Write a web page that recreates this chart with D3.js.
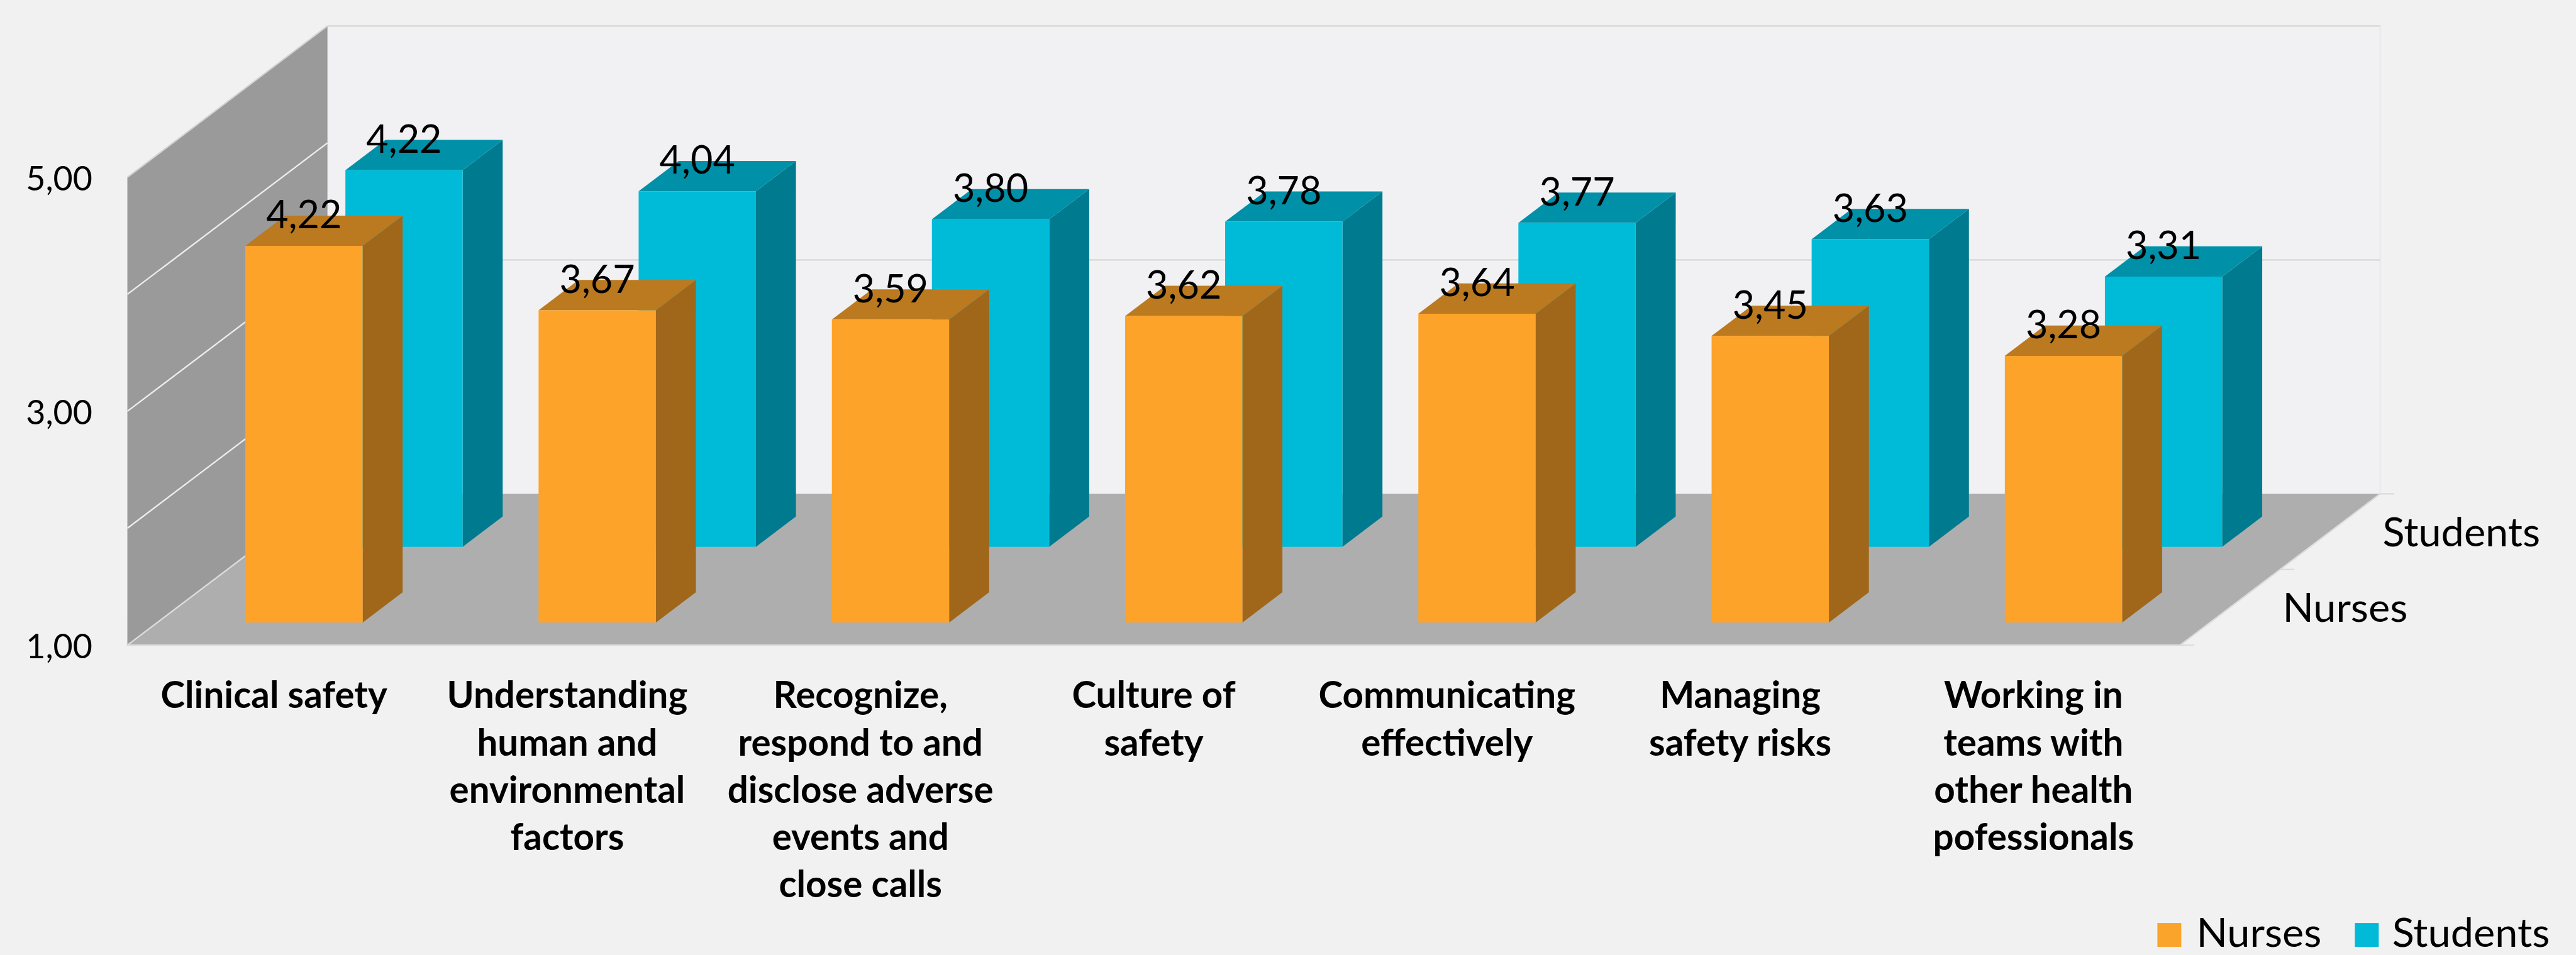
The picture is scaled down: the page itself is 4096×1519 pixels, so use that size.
<!DOCTYPE html>
<html>
<head>
<meta charset="utf-8">
<script src="https://cdn.jsdelivr.net/npm/d3@7/dist/d3.min.js"></script>
<style>
  html, body { margin: 0; padding: 0; background: #f1f1f1; overflow: hidden; }
  svg { display: block; font-family: Lato, "Open Sans", sans-serif; }
</style>
</head>
<body>
<svg id="chart"></svg>
<script>
// Chart data
const categories = [
  ["Clinical safety"],
  ["Understanding", "human and", "environmental", "factors"],
  ["Recognize,", "respond to and", "disclose adverse", "events and", "close calls"],
  ["Culture of", "safety"],
  ["Communicating", "effectively"],
  ["Managing", "safety risks"],
  ["Working in", "teams with", "other health", "pofessionals"]
];
const seriesNames = ["Nurses", "Students"];
const nurses = [4.22, 3.67, 3.59, 3.62, 3.64, 3.45, 3.28];
const students = [4.22, 4.04, 3.80, 3.78, 3.77, 3.63, 3.31];
const valueTicks = [1, 3, 5];
const wallGridValues = [2, 3, 4];
const backGridValues = [3, 5];

// Drawing space, scaled down to the window through the viewBox
const W = 4421, H = 1640;
const svg = d3.select("#chart")
  .attr("width", 4096).attr("height", 1519)
  .attr("viewBox", `0 0 ${W} ${H}`);

svg.append("rect").attr("width", W).attr("height", H).attr("fill", "#f1f1f1");

// Oblique box: front-left corner at (x0, y(1)), receding by (depthX, -depthY)
const x0 = 218, x1 = 3742, depthX = 343.5, depthY = 260;
const y = d3.scaleLinear().domain([1, 5]).range([1108, 304.6]);
const x = d3.scaleBand().domain(d3.range(categories.length)).range([x0, x1])
  .paddingInner(0.6).paddingOuter(0.3);
const z = d3.scaleBand().domain(seriesNames).range([0, 1])
  .paddingInner(0.6).paddingOuter(0.3);

// Project (horizontal px, value, depth 0..1) onto the page
const project = (px, v, d) => [px + d * depthX, y(v) - d * depthY];
const poly = pts => d3.line()(pts) + "Z";

const [vMin, vMax] = y.domain();

// Back wall
svg.append("path")
  .attr("d", poly([project(x0, vMin, 1), project(x1, vMin, 1), project(x1, vMax, 1), project(x0, vMax, 1)]))
  .attr("fill", "#f1f1f3");
svg.append("line")
  .attr("x1", project(x1, vMin, 1)[0]).attr("x2", project(x1, vMin, 1)[0])
  .attr("y1", y(vMin) - depthY).attr("y2", y(vMax) - depthY)
  .attr("stroke", "#e8e8ea").attr("stroke-width", 2);
svg.selectAll(".back-grid").data(backGridValues).join("line")
  .attr("class", "back-grid")
  .attr("x1", project(x0, 1, 1)[0]).attr("x2", project(x1, 1, 1)[0])
  .attr("y1", d => project(x0, d, 1)[1]).attr("y2", d => project(x0, d, 1)[1])
  .attr("stroke", "#dcdcde").attr("stroke-width", 3);

// Left wall
svg.append("path")
  .attr("d", poly([project(x0, vMin, 0), project(x0, vMin, 1), project(x0, vMax, 1), project(x0, vMax, 0)]))
  .attr("fill", "#9a9a9b");
svg.selectAll(".wall-grid").data(wallGridValues).join("line")
  .attr("class", "wall-grid")
  .attr("x1", project(x0, 1, 0)[0]).attr("x2", project(x0, 1, 1)[0])
  .attr("y1", d => project(x0, d, 0)[1]).attr("y2", d => project(x0, d, 1)[1])
  .attr("stroke", "#ececec").attr("stroke-width", 2.5);
svg.append("path")
  .attr("d", d3.line()([project(x0, vMax, 0), project(x0, vMax, 1)]))
  .attr("stroke", "#d2d2d2").attr("stroke-width", 2.5).attr("fill", "none");

// Floor
svg.append("path")
  .attr("d", poly([project(x0, vMin, 0), project(x1, vMin, 0), project(x1, vMin, 1), project(x0, vMin, 1)]))
  .attr("fill", "#aeaeae");
svg.append("path")
  .attr("d", d3.line()([project(x0, vMin, 1), project(x0, vMin, 0), project(x1, vMin, 0), project(x1, vMin, 1)]))
  .attr("stroke", "#dcdcdc").attr("stroke-width", 2.5).attr("fill", "none");

// Depth-axis ticks beside the floor
svg.selectAll(".depth-tick").data([0, 0.5, 1]).join("line")
  .attr("class", "depth-tick")
  .attr("x1", d => project(x1, vMin, d)[0]).attr("x2", d => project(x1, vMin, d)[0] + 24)
  .attr("y1", d => project(x1, vMin, d)[1]).attr("y2", d => project(x1, vMin, d)[1])
  .attr("stroke", "#dcdcdc").attr("stroke-width", 2.5);

// Bars: rear series first so the front series overlaps it
const seriesDefs = [
  { name: "Students", values: students, front: "#00bbd8", side: "#007a8e", top: "#0090a8" },
  { name: "Nurses", values: nurses, front: "#fda32a", side: "#a0671b", top: "#bb7a20" }
];

const comma = d3.formatLocale({ decimal: ",", thousands: ".", grouping: [3], currency: ["", ""] }).format(".2f");

seriesDefs.forEach(s => {
  const zNear = z(s.name), zFar = zNear + z.bandwidth();
  const g = svg.append("g").attr("class", "series-" + s.name);
  s.values.forEach((v, i) => {
    const l = x(i), r = l + x.bandwidth();
    g.append("path").attr("fill", s.side)
      .attr("d", poly([project(r, vMin, zNear), project(r, vMin, zFar), project(r, v, zFar), project(r, v, zNear)]));
    g.append("path").attr("fill", s.top)
      .attr("d", poly([project(l, v, zNear), project(r, v, zNear), project(r, v, zFar), project(l, v, zFar)]));
    g.append("path").attr("fill", s.front)
      .attr("d", poly([project(l, vMin, zNear), project(r, vMin, zNear), project(r, v, zNear), project(l, v, zNear)]));
  });
});

// Value labels sit above each front face
seriesDefs.forEach(s => {
  const zNear = z(s.name);
  svg.append("g").selectAll("text").data(s.values).join("text")
    .attr("x", (v, i) => project(x(i) + x.bandwidth() / 2, v, zNear)[0])
    .attr("y", v => project(0, v, zNear)[1] - 30)
    .attr("text-anchor", "middle")
    .attr("font-size", 66)
    .attr("fill", "#000")
    .text(v => comma(v));
});

// Value axis
const axisG = svg.append("g").attr("transform", "translate(158,0)")
  .call(d3.axisLeft(y).tickValues(valueTicks).tickFormat(comma).tickSize(0).tickPadding(0));
axisG.select(".domain").remove();
axisG.selectAll("text")
  .attr("font-family", "Lato, 'Open Sans', sans-serif")
  .attr("font-size", 58).attr("fill", "#000")
  .attr("dy", 22);

// Category labels, wrapped on fixed line breaks
const catG = svg.append("g").selectAll("text").data(categories).join("text")
  .attr("text-anchor", "middle")
  .attr("font-size", 63)
  .attr("font-weight", 700)
  .attr("fill", "#000");
catG.selectAll("tspan").data((lines, i) => lines.map(t => ({ t, i }))).join("tspan")
  .attr("x", d => x(d.i) + x.bandwidth() / 2)
  .attr("y", (d, k) => 1216 + k * 81.3)
  .text(d => d.t);

// Series names along the depth axis
svg.append("g").selectAll("text").data(seriesNames).join("text")
  .attr("x", d => project(x1, vMin, z(d) + z.bandwidth() / 2)[0] + 90)
  .attr("y", d => project(x1, vMin, z(d) + z.bandwidth() / 2)[1] + 25)
  .attr("font-size", 70)
  .attr("fill", "#000")
  .text(d => d);

// Legend
const legendX = { Nurses: 3703, Students: 4042 };
const legendColor = { Nurses: "#fba42b", Students: "#00bad8" };
const legend = svg.append("g").selectAll("g").data(seriesNames).join("g")
  .attr("transform", d => `translate(${legendX[d]},1585)`);
legend.append("rect").attr("width", 41).attr("height", 41).attr("fill", d => legendColor[d]);
legend.append("text").attr("x", d => d === "Nurses" ? 67 : 64).attr("y", 41)
  .attr("font-size", 70).attr("fill", "#000").text(d => d);
</script>
</body>
</html>
